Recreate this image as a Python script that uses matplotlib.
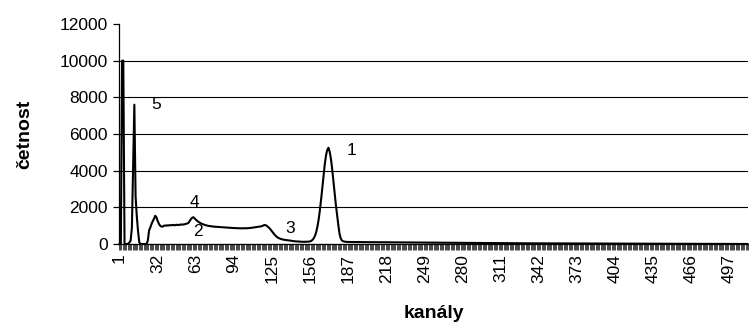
import numpy as np
import matplotlib
matplotlib.use('Agg')
import matplotlib.pyplot as plt

plt.rcParams['font.family'] = ['Liberation Sans', 'DejaVu Sans']

# counts per channel
spike_region = [0, 0, 10000, 10000, 0, 0, 0, 20, 80, 200, 900, 4200, 7600, 2600, 1500, 700, 100, 0, 0, 0, 0, 0]  # ch 1-22

plateau = [  # ch 23-157
    0, 200, 750, 900, 1100, 1250, 1380, 1540, 1450, 1250,
    1100, 1000, 950, 950, 990, 1010, 1000, 1020, 1010, 1030,
    1020, 1040, 1030, 1020, 1050, 1040, 1030, 1060, 1050, 1070,
    1060, 1080, 1100, 1120, 1150, 1250, 1350, 1430, 1460, 1400,
    1330, 1270, 1220, 1170, 1130, 1100, 1070, 1050, 1030, 1010,
    990, 980, 970, 960, 950, 945, 940, 930, 925, 920,
    915, 910, 905, 900, 900, 895, 890, 885, 880, 880,
    875, 870, 870, 865, 860, 860, 855, 855, 850, 850,
    855, 860, 860, 865, 870, 880, 890, 900, 910, 920,
    930, 940, 950, 960, 980, 1010, 1040, 1020, 980, 920,
    860, 780, 690, 600, 520, 450, 390, 340, 310, 280,
    260, 240, 230, 220, 210, 200, 190, 180, 170, 160,
    150, 145, 140, 135, 130, 125, 125, 120, 120, 120,
    120, 125, 130, 140, 170,
]

peak1 = [  # ch 158-187
    226, 310, 443, 647, 938, 1329, 1830, 2423, 3078, 3746,
    4350, 4830, 5130, 5250, 5030, 4650, 4100, 3460, 2790, 2155,
    1600, 1050, 560, 300, 190, 150, 130, 120, 115, 110,
]

tail = [  # ch 188-512
    110, 108, 109, 106, 107, 105, 106, 104, 105, 103, 104, 102, 103, 101, 102, 100, 101, 99, 100, 98, 99, 97, 98, 96, 97,
    95, 96, 94, 95, 93, 94, 92, 93, 91, 92, 90, 91, 89, 90, 88, 89, 87, 88, 86, 87, 85, 86, 84, 85, 83,
    84, 82, 83, 81, 82, 80, 81, 79, 80, 78, 79, 77, 78, 76, 77, 75, 76, 74, 75, 73, 74, 72, 73, 71, 72,
    70, 71, 69, 70, 68, 69, 67, 68, 66, 67, 65, 66, 64, 65, 63, 64, 62, 63, 61, 62, 60, 61, 59, 60, 58,
    59, 58, 59, 57, 58, 56, 57, 55, 56, 54, 55, 53, 54, 52, 53, 51, 52, 50, 51, 49, 50, 48, 49, 47, 48,
    47, 48, 46, 47, 45, 46, 44, 45, 43, 44, 42, 43, 41, 42, 40, 41, 39, 40, 38, 39, 37, 38, 36, 37, 35,
    36, 37, 35, 36, 34, 35, 35, 34, 36, 33, 34, 35, 33, 34, 32, 33, 34, 32, 33, 31, 32, 33, 31, 32, 30,
    31, 32, 30, 31, 29, 30, 31, 29, 30, 28, 29, 30, 28, 29, 27, 28, 29, 27, 28, 26, 27, 28, 26, 27, 25,
    26, 27, 25, 26, 24, 25, 26, 24, 25, 23, 24, 25, 23, 24, 22, 23, 24, 22, 23, 21, 22, 23, 21, 22, 20,
    21, 22, 20, 21, 19, 20, 21, 19, 20, 18, 19, 20, 18, 19, 17, 18, 19, 17, 18, 16, 17, 18, 16, 17, 15,
    16, 17, 15, 16, 14, 15, 16, 14, 15, 13, 14, 15, 13, 14, 12, 13, 14, 12, 13, 11, 12, 13, 11, 12, 10,
    11, 12, 10, 11, 9, 10, 11, 9, 10, 8, 9, 10, 8, 9, 7, 8, 9, 7, 8, 6, 7, 8, 6, 7, 5,
    6, 7, 5, 6, 4, 5, 6, 4, 5, 3, 4, 5, 3, 4, 2, 3, 4, 2, 3, 1, 2, 3, 1, 2, 0,
]

counts = np.array(spike_region + plateau + peak1 + tail)
channels = np.arange(1, len(counts) + 1)

tick_labels = [1, 32, 63, 94, 125, 156, 187, 218, 249, 280, 311, 342, 373, 404, 435, 466, 497]
y_ticks = [0, 2000, 4000, 6000, 8000, 10000, 12000]

# peak annotations (label, channel, count)
peak_labels = [('5', 31, 7600), ('1', 190, 5080), ('4', 62, 2250), ('2', 65, 680), ('3', 140, 860)]

fig = plt.figure(figsize=(7.49, 3.29), dpi=100)
ax = fig.add_axes([119 / 749, 1 - 244 / 329, 629 / 749, 220 / 329])

ax.plot(channels, counts, color='black', lw=1.5, clip_on=False, zorder=3)

ax.set_xlim(0.5, len(counts) + 0.5)
ax.set_ylim(0, 12000)

ax.set_xticks(tick_labels)
ax.set_xticklabels([str(t) for t in tick_labels], rotation=90, fontsize=12.5)
ax.set_xticks(np.arange(0.5, len(counts) + 1, 1), minor=True)
ax.tick_params(axis='x', which='major', length=0, pad=7)
ax.tick_params(axis='x', which='minor', length=4.5, width=0.5, color='black', direction='out')

ax.set_yticks(y_ticks)
ax.set_yticklabels([str(t) for t in y_ticks], fontsize=12.5)
ax.tick_params(axis='y', length=4, width=0.9, direction='out', pad=4)

ax.yaxis.grid(True, color='black', lw=0.8)
ax.get_ygridlines()[-1].set_visible(False)
ax.set_axisbelow(True)

for side in ['top', 'right']:
    ax.spines[side].set_visible(False)
ax.spines['left'].set_linewidth(0.9)
ax.spines['bottom'].set_linewidth(0.9)

for text, ch, val in peak_labels:
    ax.text(ch, val, text, fontsize=12.5, ha='center', va='center')

ax.set_xlabel('kanály', fontsize=14, fontweight='bold')
ax.xaxis.set_label_coords(0.5, -0.275)
ax.set_ylabel('četnost', fontsize=14, fontweight='bold')
ax.yaxis.set_label_coords(-0.136, 0.5)

fig.savefig('out.png', dpi=100)
